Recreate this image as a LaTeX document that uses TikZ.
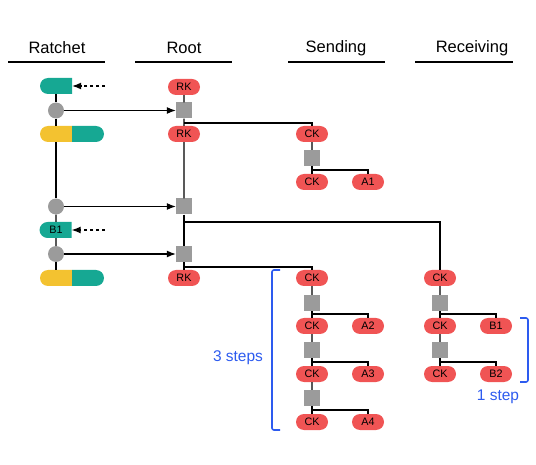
\documentclass[tikz,border=0pt]{standalone}
\usepackage{fontspec}
\setmainfont{Liberation Sans}
\usetikzlibrary{shapes.misc,arrows.meta}
\definecolor{pillred}{HTML}{F05454}
\definecolor{pillteal}{HTML}{16A893}
\definecolor{pillyel}{HTML}{F3C230}
\definecolor{boxgray}{HTML}{9B9B9B}
\definecolor{stepblue}{HTML}{2D5BEF}
\tikzset{
  pill/.style={rounded rectangle, fill=pillred, minimum width=32pt, minimum height=16pt, inner sep=0pt, font=\fontsize{10.8}{11}\selectfont},
  halfL/.style={rounded rectangle, rounded rectangle right arc=none, minimum width=32pt, minimum height=16pt, inner sep=0pt, font=\fontsize{10.8}{11}\selectfont},
  halfR/.style={rounded rectangle, rounded rectangle left arc=none, minimum width=32pt, minimum height=16pt, inner sep=0pt},
  sq/.style={rectangle, fill=boxgray, minimum size=16pt, inner sep=0pt},
  dot/.style={circle, fill=boxgray, minimum size=16pt, inner sep=0pt},
  head/.style={font=\fontsize{16.5}{18}\selectfont},
  headline/.style={line width=1.8pt},
  conn/.style={line width=1.1pt},
  arr/.style={line width=1.1pt, -{Latex[length=9pt,width=7pt]}},
  darr/.style={line width=1.1pt, dash pattern=on 3pt off 3pt, -{Latex[length=9pt,width=7pt]}},
  brace/.style={stepblue, line width=1.6pt, rounded corners=2pt},
  steptext/.style={stepblue, font=\fontsize{15.5}{17}\selectfont},
}
\begin{document}
\begin{tikzpicture}[x=1pt,y=-1pt]
\useasboundingbox (0,0) rectangle (536,465);
% headers
\node[head] (hRat) at (57,48) {Ratchet};
\node[head] (hRoot) at (184,48) {Root};
\node[head] (hSend) at (336,48) {Sending};
\node[head] (hRecv) at (472,48) {Receiving};
\draw[headline] (8,62) -- (105,62);
\draw[headline] (135,62) -- (232,62);
\draw[headline] (288,62) -- (385,62);
\draw[headline] (415,62) -- (513,62);

% ratchet column
\node[halfL, fill=pillteal] (tp) at (56,86) {};
\node[dot] (c1) at (56,110.5) {};
\node[halfL, fill=pillyel] (y1) at (56,134) {};
\node[halfR, fill=pillteal] (t1) at (88,134) {};
\node[dot] (c2) at (56,206.5) {};
\node[halfL, fill=pillteal] (bone) at (56,230) {B1};
\node[dot] (c3) at (56,254) {};
\node[halfL, fill=pillyel] (y2) at (56,278) {};
\node[halfR, fill=pillteal] (t2) at (88,278) {};
\draw[conn] (tp) -- (c1);
\draw[conn] (c1) -- (y1);
\draw[conn] (y1) -- (c2);
\draw[conn] (c2) -- (bone);
\draw[conn] (bone) -- (c3);
\draw[conn] (c3) -- (y2);
\coordinate (d1) at (105,86);
\coordinate (d2) at (105,230);
\draw[darr] (d1) -- (tp);
\draw[darr] (d2) -- (bone);

% root column
\node[pill] (rk1) at (184,87) {RK};
\node[sq] (s1) at (184,110.5) {};
\node[pill] (rk2) at (184,134) {RK};
\node[sq] (s2) at (184,206.5) {};
\node[sq] (s3) at (184,254) {};
\node[pill] (rk3) at (184,278) {RK};
\draw[conn] (rk1) -- (s1);
\draw[conn] (s1) -- (rk2);
\draw[conn] (rk2) -- (s2);
\draw[conn] (s2) -- (s3);
\draw[conn] (s3) -- (rk3);
\draw[arr] (c1) -- (s1);
\draw[arr] (c2) -- (s2);
\draw[arr] (c3) -- (s3);
\coordinate (rb1) at (184,123);
\coordinate (rb2) at (184,222);
\coordinate (rb3) at (184,267);

% sending upper
\node[pill] (ck1) at (312,134) {CK};
\node[sq] (s4) at (312,158) {};
\node[pill] (ck2) at (312,182) {CK};
\node[pill] (a1) at (368,182) {A1};
\draw[conn] (rb1) -| (ck1);
\draw[conn] (ck1) -- (s4);
\draw[conn] (s4) -- (ck2);
\coordinate (sb1) at (312,170);
\draw[conn] (sb1) -| (a1);

% sending lower
\node[pill] (ck3) at (312,278) {CK};
\node[sq] (s5) at (312,303) {};
\node[pill] (ck4) at (312,326) {CK};
\node[pill] (a2) at (368,326) {A2};
\node[sq] (s6) at (312,350) {};
\node[pill] (ck5) at (312,374) {CK};
\node[pill] (a3) at (368,374) {A3};
\node[sq] (s7) at (312,398) {};
\node[pill] (ck6) at (312,422) {CK};
\node[pill] (a4) at (368,422) {A4};
\draw[conn] (rb3) -| (ck3);
\draw[conn] (ck3) -- (s5);
\draw[conn] (s5) -- (ck4);
\draw[conn] (ck4) -- (s6);
\draw[conn] (s6) -- (ck5);
\draw[conn] (ck5) -- (s7);
\draw[conn] (s7) -- (ck6);
\coordinate (sb2) at (312,314);
\coordinate (sb3) at (312,362);
\coordinate (sb4) at (312,410);
\draw[conn] (sb2) -| (a2);
\draw[conn] (sb3) -| (a3);
\draw[conn] (sb4) -| (a4);

% receiving
\node[pill] (rc1) at (440,278) {CK};
\node[sq] (s8) at (440,303) {};
\node[pill] (rc2) at (440,326) {CK};
\node[pill] (bb1) at (496,326) {B1};
\node[sq] (s9) at (440,350) {};
\node[pill] (rc3) at (440,374) {CK};
\node[pill] (bb2) at (496,374) {B2};
\draw[conn] (rb2) -| (rc1);
\draw[conn] (rc1) -- (s8);
\draw[conn] (s8) -- (rc2);
\draw[conn] (rc2) -- (s9);
\draw[conn] (s9) -- (rc3);
\coordinate (qb1) at (440,314);
\coordinate (qb2) at (440,362);
\draw[conn] (qb1) -| (bb1);
\draw[conn] (qb2) -| (bb2);

% brackets
\draw[brace] (280,270) -- (272,270) -- (272,430) -- (280,430);
\draw[brace] (520,318) -- (528,318) -- (528,382) -- (520,382);
\node[steptext] (t3) at (238,358) {3 steps};
\node[steptext] (t1s) at (498,397) {1 step};
\end{tikzpicture}
\end{document}
